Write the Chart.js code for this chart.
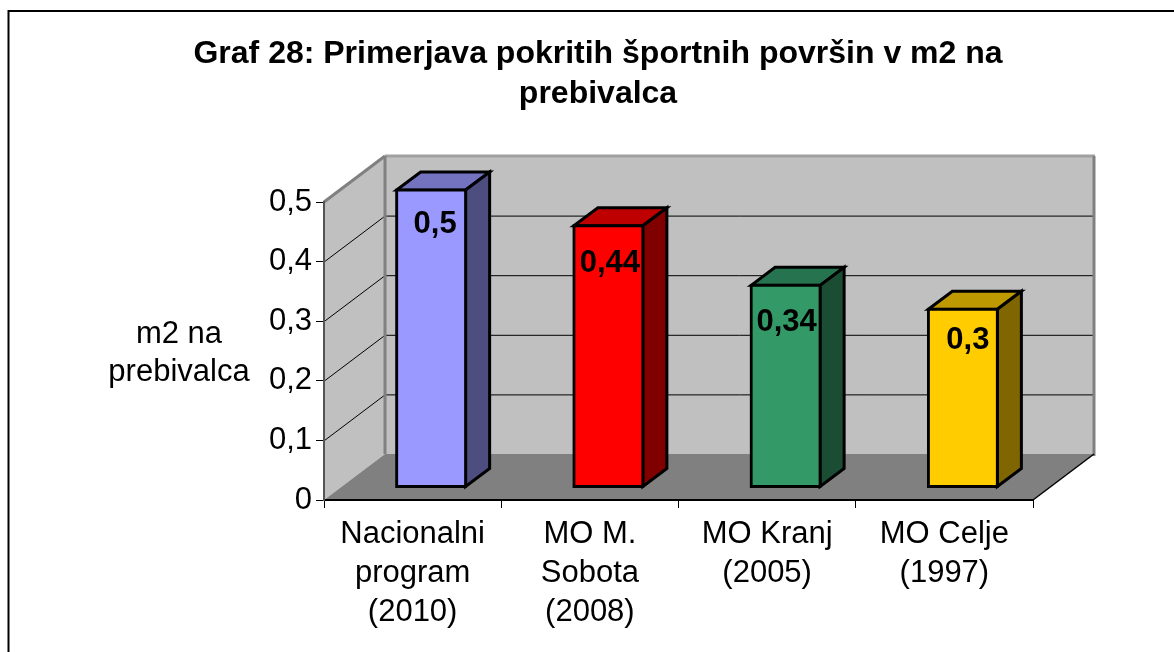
<!DOCTYPE html>
<html><head><meta charset="utf-8">
<style>html,body{margin:0;padding:0;background:#fff;overflow:hidden}canvas{display:block}</style>
<script src="https://cdn.jsdelivr.net/npm/chart.js@4"></script>
</head><body><canvas id="c" width="1174" height="652"></canvas>
<script>
const categories=[["Nacionalni","program","(2010)"],["MO M.","Sobota","(2008)"],["MO Kranj","(2005)"],["MO Celje","(1997)"]];
const values=[0.5,0.44,0.34,0.3];
const valueLabels=["0,5","0,44","0,34","0,3"];
const yTickLabels=["0","0,1","0,2","0,3","0,4","0,5"];
const titleLines=["Graf 28: Primerjava pokritih športnih površin v m2 na","prebivalca"];
const yTitleLines=["m2 na","prebivalca"];
const frontColors=["#9999FF","#FF0000","#339966","#FFCC00"];
const topColors=["#7373BF","#BF0000","#267350","#BF9900"];
const sideColors=["#4D4D80","#800000","#1A4D33","#806600"];
const FONT="'Liberation Sans', Arial, sans-serif";
const WALL={dx:61,dy:-46}, BAR_OFF={dx:18.5,dy:-12.5}, BAR_D={dx:24,dy:-18};
function poly(ctx,pts,fill,stroke,lw){ctx.beginPath();pts.forEach((p,i)=>i?ctx.lineTo(p[0],p[1]):ctx.moveTo(p[0],p[1]));ctx.closePath();
 if(fill){ctx.fillStyle=fill;ctx.fill();} if(stroke){ctx.strokeStyle=stroke;ctx.lineWidth=lw;ctx.lineJoin='miter';ctx.stroke();}}
function line(ctx,a,b,c,w){ctx.beginPath();ctx.moveTo(a[0],a[1]);ctx.lineTo(b[0],b[1]);ctx.strokeStyle=c;ctx.lineWidth=w;ctx.stroke();}
const scene={id:'scene',
 afterLayout(chart){chart.titleBlock.left=22;chart.titleBlock.right=1174;},
 beforeDraw(chart){
  const ctx=chart.ctx,a=chart.chartArea,ys=chart.scales.y;
  const L=a.left,R=a.right,T=a.top,B=a.bottom,dx=WALL.dx,dy=WALL.dy;
  ctx.save();
  ctx.fillStyle='#fff';ctx.fillRect(0,0,chart.width,chart.height);
  line(ctx,[8,11],[1174,11],'#000',2);line(ctx,[8.5,10],[8.5,652],'#000',2);
  // side wall, back wall, floor
  poly(ctx,[[L,T],[L+dx,T+dy],[L+dx,B+dy],[L,B]],'#C0C0C0');
  poly(ctx,[[L+dx,T+dy],[R+dx,T+dy],[R+dx,B+dy],[L+dx,B+dy]],'#C0C0C0');
  yTickLabels.forEach((_,i)=>{ if(i===0||i===yTickLabels.length-1)return;
    const y=ys.getPixelForTick(i)+0.5;
    line(ctx,[L,y],[L+dx,y+dy],'#000',1);
    line(ctx,[L+dx,y+dy],[R+dx,y+dy],'#000',1);
  });
  poly(ctx,[[L,B],[L+dx,B+dy],[R+dx,B+dy],[R,B]],'#808080');
  line(ctx,[L,T],[L+dx,T+dy],'#808080',3);
  line(ctx,[L+dx,T+dy],[R+dx+1,T+dy],'#A0A0A0',3);
  line(ctx,[L+dx,T+dy],[L+dx,B+dy],'#808080',3);
  line(ctx,[R+dx,T+dy],[R+dx,B+dy+2],'#808080',3);
  line(ctx,[R,B],[R+dx,B+dy],'#000',1.5);
  // horizontal y-axis title
  ctx.fillStyle='#000';ctx.font='31px '+FONT;ctx.textAlign='center';ctx.textBaseline='middle';
  yTitleLines.forEach((t,i)=>ctx.fillText(t,179,334+i*38));
  ctx.restore();
 },
 beforeDatasetsDraw(chart){
  const ctx=chart.ctx,els=chart.getDatasetMeta(0).data;
  ctx.save();
  els.forEach((el,i)=>{
   const p=el.getProps(['x','y','base','width'],true);
   const l=p.x-p.width/2+BAR_OFF.dx+0.5,r=p.x+p.width/2+BAR_OFF.dx-0.5,t=p.y+BAR_OFF.dy+0.5,b=p.base+BAR_OFF.dy-0.5;
   const ddx=BAR_D.dx,ddy=BAR_D.dy;
   poly(ctx,[[l,t],[l+ddx,t+ddy],[r+ddx,t+ddy],[r,t]],topColors[i],'#000',3);
   poly(ctx,[[r,t],[r+ddx,t+ddy],[r+ddx,b+ddy],[r,b]],sideColors[i],'#000',3);
  });
  ctx.restore();
  ctx.save();ctx.translate(BAR_OFF.dx,BAR_OFF.dy);
 },
 afterDatasetsDraw(chart){
  const ctx=chart.ctx;ctx.restore();
  ctx.save();
  ctx.fillStyle='#000';ctx.font='bold 31px '+FONT;ctx.textAlign='center';ctx.textBaseline='middle';
  chart.getDatasetMeta(0).data.forEach((el,i)=>{
   const p=el.getProps(['x','y'],true);
   const drop=[35,38,38,32][i], shift=[4,1.5,1,5][i];
   ctx.fillText(valueLabels[i],p.x+BAR_OFF.dx+shift,p.y+BAR_OFF.dy+drop);
  });
  ctx.restore();
 }
};
new Chart(document.getElementById('c'),{
 type:'bar',
 data:{labels:categories,datasets:[{data:values,backgroundColor:frontColors,borderColor:'#000',borderWidth:3,borderSkipped:false,inflateAmount:1,barPercentage:0.395,categoryPercentage:1,clip:false}]},
 plugins:[scene],
 options:{responsive:false,animation:false,
  layout:{padding:{left:0,right:141,top:0,bottom:0}},
  plugins:{legend:{display:false},tooltip:{enabled:false},
   title:{display:true,text:titleLines,color:'#000',font:{family:FONT,size:32,weight:'bold',lineHeight:1.25},padding:{top:34,bottom:88}}},
  scales:{
   x:{type:'category',offset:true,
    grid:{display:true,drawOnChartArea:false,drawTicks:true,tickLength:8,color:'#000',offset:true},
    border:{display:true,color:'#000',width:2},
    ticks:{autoSkip:false,maxRotation:0,minRotation:0,padding:7,color:'#000',font:{family:FONT,size:31,lineHeight:1.26}},
    afterFit(s){s.height=152;}},
   y:{type:'linear',min:0,max:0.5,
    grid:{display:true,drawOnChartArea:false,drawTicks:true,tickLength:8,color:'#000'},
    border:{display:true,color:'#555',width:2},
    ticks:{stepSize:0.1,padding:4,color:'#000',font:{family:FONT,size:31},callback:(v,i)=>yTickLabels[i]},
    afterFit(s){s.width=324;}}
  }}
});
</script></body></html>
